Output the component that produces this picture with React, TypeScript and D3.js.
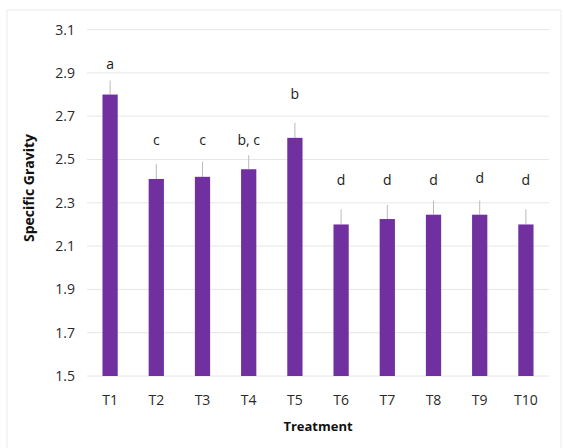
import React from "react";
import * as d3 from "d3";

const categories = ["T1", "T2", "T3", "T4", "T5", "T6", "T7", "T8", "T9", "T10"];
const values = [2.8, 2.41, 2.42, 2.455, 2.6, 2.2, 2.225, 2.245, 2.245, 2.2];
const errors = [0.065, 0.07, 0.07, 0.065, 0.07, 0.07, 0.065, 0.065, 0.065, 0.07];
const letters = ["a", "c", "c", "b, c", "b", "d", "d", "d", "d", "d"];
const letterLevels = [2.94, 2.59, 2.59, 2.59, 2.8, 2.405, 2.405, 2.405, 2.415, 2.405];
const yTicks = [1.5, 1.7, 1.9, 2.1, 2.3, 2.5, 2.7, 2.9, 3.1];

const W = 563;
const H = 448;
const plot = { left: 87, right: 549, top: 29.6, bottom: 376 };
const font = "'Open Sans', 'Noto Sans', sans-serif";

export default function App() {
  const x = d3
    .scaleBand<string>()
    .domain(categories)
    .range([plot.left, plot.right])
    .paddingInner(0.67)
    .paddingOuter(0.335);
  const y = d3.scaleLinear().domain([1.5, 3.1]).range([plot.bottom, plot.top]);
  const bw = x.bandwidth();

  return (
    <svg
      width={W}
      height={H}
      style={{ position: "absolute", left: 0, top: 0, background: "#fff" }}
    >
      <rect x={7} y={10} width={554} height={445} fill="#fff" stroke="#ececec" strokeWidth={1} />
      {yTicks.map((t) => (
        <g key={t}>
          <line
            x1={plot.left}
            x2={plot.right}
            y1={y(t)}
            y2={y(t)}
            stroke="#e6e6e6"
            strokeWidth={1}
          />
          <text
            x={75}
            y={y(t)}
            dy="0.35em"
            textAnchor="end"
            fontFamily={font}
            fontSize={14}
            fill="#2a2a2a"
          >
            {t.toFixed(1)}
          </text>
        </g>
      ))}
      {categories.map((c, i) => {
        const cx = (x(c) as number) + bw / 2;
        return (
          <g key={c}>
            <line
              x1={cx}
              x2={cx}
              y1={y(values[i])}
              y2={y(values[i] + errors[i])}
              stroke="#bbbbbb"
              strokeWidth={1}
            />
            <rect
              x={x(c)}
              y={y(values[i])}
              width={bw}
              height={y(1.5) - y(values[i])}
              fill="#7030A0"
            />
            <text
              x={cx}
              y={y(letterLevels[i])}
              dy="0.35em"
              textAnchor="middle"
              fontFamily={font}
              fontSize={14}
              fill="#1a1a1a"
            >
              {letters[i]}
            </text>
            <text
              x={cx}
              y={400}
              dy="0.35em"
              textAnchor="middle"
              fontFamily={font}
              fontSize={14}
              fill="#2a2a2a"
            >
              {c}
            </text>
          </g>
        );
      })}
      <text
        x={(plot.left + plot.right) / 2}
        y={426}
        dy="0.35em"
        textAnchor="middle"
        fontFamily={font}
        fontSize={13}
        fontWeight="bold"
        fill="#111"
      >
        Treatment
      </text>
      <text
        transform={`translate(29, 188) rotate(-90)`}
        dy="0.35em"
        textAnchor="middle"
        fontFamily={font}
        fontSize={14}
        fontWeight="bold"
        fill="#111"
      >
        Specific Gravity
      </text>
    </svg>
  );
}
